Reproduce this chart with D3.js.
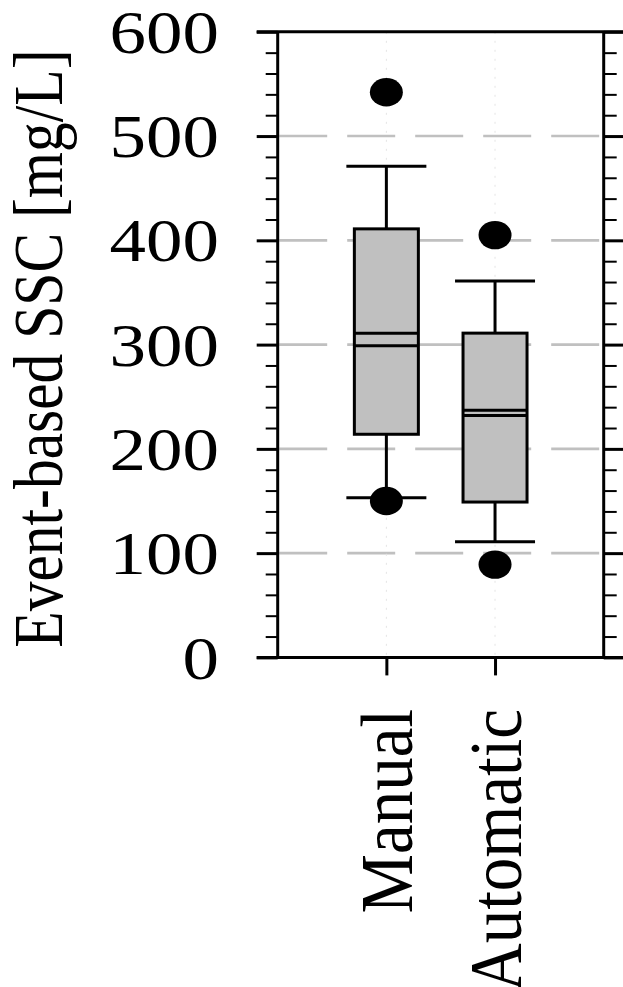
<!DOCTYPE html>
<html>
<head>
<meta charset="utf-8">
<script src="https://cdn.jsdelivr.net/npm/d3@7"></script>
<style>
  html, body { margin: 0; padding: 0; background: #fff; }
  svg { display: block; }
  svg text { font-family: "Liberation Serif", "Times New Roman", Times, serif; }
</style>
</head>
<body>
<svg id="chart" width="623" height="987"></svg>
<script>
// Box-plot summaries of event-based suspended sediment concentration
const categories = ["Manual", "Automatic"];
const whiskerLow = [153, 111];
const q1 = [214, 149];
const median = [311, 237];
const mean = [299, 232];
const q3 = [411, 311];
const whiskerHigh = [471, 361];
const outliers = [[542, 150], [405, 89]];

const yMajorTicks = [0, 100, 200, 300, 400, 500, 600];
const yGridValues = [100, 200, 300, 400, 500];
const yLabel = "Event-based SSC [mg/L]";

const svg = d3.select("#chart");
const squash = 0.85;      // vertical compression of the horizontal glyphs
const squashCat = 0.905;  // same for the rotated category names

const plotLeft = 277.7, plotRight = 603.7, plotTop = 31.8, plotBottom = 657.4;
const y = d3.scaleLinear().domain([0, 600]).range([plotBottom, plotTop]);
const x = d3.scalePoint().domain(categories).range([plotLeft, plotRight]).padding(1);
const yMinorTicks = d3.range(0, 601, 20).filter(v => v % 100 !== 0);

// Grid: dashed horizontal lines and faint dotted verticals at categories
svg.append("g").selectAll("line").data(yGridValues).join("line")
  .attr("x1", plotLeft + 1.5).attr("x2", plotRight - 1.5)
  .attr("y1", d => y(d)).attr("y2", d => y(d))
  .attr("stroke", "#c0c0c0").attr("stroke-width", 2.6)
  .attr("stroke-dasharray", "48,20");

svg.append("g").selectAll("line").data(categories).join("line")
  .attr("x1", d => x(d)).attr("x2", d => x(d))
  .attr("y1", plotTop).attr("y2", plotBottom)
  .attr("stroke", "#e4e4e4").attr("stroke-width", 1)
  .attr("stroke-dasharray", "2,7");

// Axis ticks (left and right, major + minor), bottom category ticks
function styleAxis(g, w) {
  g.select(".domain").remove();
  g.selectAll(".tick line").attr("stroke", "#000").attr("stroke-width", w);
  g.selectAll(".tick text").remove();
}
svg.append("g").attr("transform", `translate(${plotLeft},0)`)
  .call(d3.axisLeft(y).tickValues(yMinorTicks).tickSize(12).tickFormat(""))
  .call(g => styleAxis(g, 2));
svg.append("g").attr("transform", `translate(${plotLeft},0)`)
  .call(d3.axisLeft(y).tickValues(yMajorTicks).tickSize(21).tickFormat(""))
  .call(g => styleAxis(g, 3));
svg.append("g").attr("transform", `translate(${plotRight},0)`)
  .call(d3.axisRight(y).tickValues(yMinorTicks).tickSize(13).tickFormat(""))
  .call(g => styleAxis(g, 2));
svg.append("g").attr("transform", `translate(${plotRight},0)`)
  .call(d3.axisRight(y).tickValues(yMajorTicks).tickSize(20).tickFormat(""))
  .call(g => styleAxis(g, 3));
svg.append("g").attr("transform", `translate(0,${plotBottom})`)
  .call(d3.axisBottom(x).tickSize(18).tickFormat(""))
  .call(g => styleAxis(g, 3));

// Frame
const frame = svg.append("g").attr("stroke", "#000").attr("stroke-width", 3).attr("fill", "none");
frame.append("line").attr("x1", plotLeft - 21).attr("x2", 623).attr("y1", plotTop).attr("y2", plotTop);
frame.append("line").attr("x1", plotLeft - 21).attr("x2", 623).attr("y1", plotBottom).attr("y2", plotBottom);
frame.append("line").attr("x1", plotLeft).attr("x2", plotLeft).attr("y1", plotTop).attr("y2", plotBottom);
frame.append("line").attr("x1", plotRight).attr("x2", plotRight).attr("y1", plotTop).attr("y2", plotBottom);

// Boxes
const boxW = 64, capW = 80;
const boxes = svg.append("g");
categories.forEach((c, i) => {
  const cx = x(c);
  const g = boxes.append("g").attr("stroke", "#000").attr("stroke-width", 3);
  g.append("line").attr("x1", cx).attr("x2", cx).attr("y1", y(q3[i])).attr("y2", y(whiskerHigh[i]));
  g.append("line").attr("x1", cx).attr("x2", cx).attr("y1", y(q1[i])).attr("y2", y(whiskerLow[i]));
  g.append("line").attr("x1", cx - capW / 2).attr("x2", cx + capW / 2)
    .attr("y1", y(whiskerHigh[i])).attr("y2", y(whiskerHigh[i]));
  g.append("line").attr("x1", cx - capW / 2).attr("x2", cx + capW / 2)
    .attr("y1", y(whiskerLow[i])).attr("y2", y(whiskerLow[i]));
  g.append("rect").attr("x", cx - boxW / 2).attr("width", boxW)
    .attr("y", y(q3[i])).attr("height", y(q1[i]) - y(q3[i]))
    .attr("fill", "#c0c0c0");
  [median[i], mean[i]].forEach(v => {
    g.append("line").attr("x1", cx - boxW / 2).attr("x2", cx + boxW / 2)
      .attr("y1", y(v)).attr("y2", y(v));
  });
  g.selectAll("ellipse").data(outliers[i]).join("ellipse")
    .attr("cx", cx).attr("cy", d => y(d))
    .attr("rx", 16.5).attr("ry", 14.2)
    .attr("fill", "#000").attr("stroke", "none");
});

// Tick labels
svg.append("g").selectAll("text").data(yMajorTicks).join("text")
  .attr("transform", d => `translate(219,${y(d)}) scale(1,${squash})`)
  .attr("dy", "0.34em")
  .attr("text-anchor", "end")
  .attr("font-size", 73)
  .text(d => d);

// Category labels, rotated
svg.append("g").selectAll("text").data(categories).join("text")
  .attr("transform", d => `translate(${x(d) + 26},709) scale(1,${squashCat}) rotate(-90)`)
  .attr("text-anchor", "end")
  .attr("font-size", 74)
  .text(d => d);

// Y-axis title
svg.append("text")
  .attr("transform", `translate(62,${(plotTop + plotBottom) / 2 + 4}) scale(1,${squash}) rotate(-90)`)
  .attr("text-anchor", "middle")
  .attr("font-size", 70)
  .text(yLabel);
</script>
</body>
</html>
